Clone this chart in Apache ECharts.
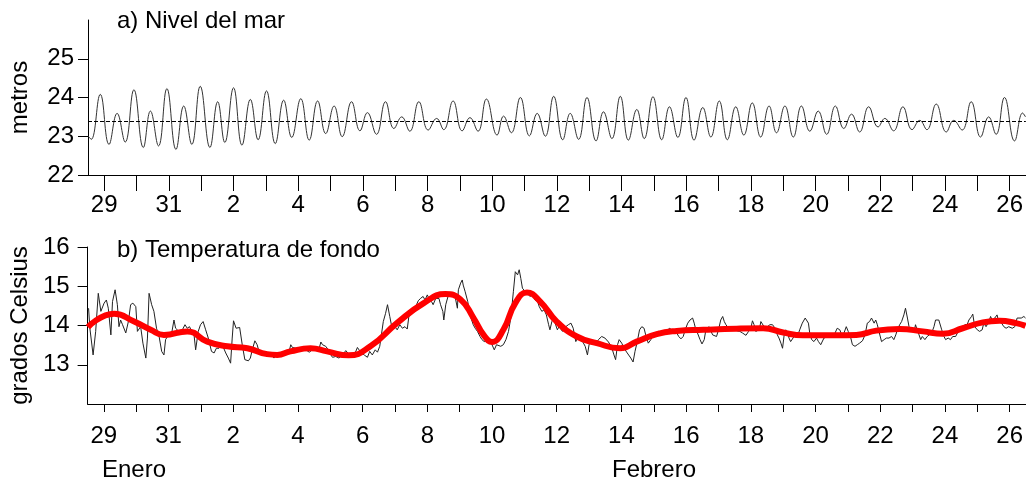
<!DOCTYPE html>
<html><head><meta charset="utf-8">
<script src="https://cdn.jsdelivr.net/npm/echarts@6/dist/echarts.min.js"></script>
<style>html,body{margin:0;padding:0;background:#fff}#c{width:1026px;height:480px}</style>
</head><body><div id="c"></div><script>
// Day numbers: Jan 29 = 29, Feb 1 = 32 ... Feb 26 = 57
const tickDays = [29,30,31,32,33,34,35,36,37,38,39,40,41,42,43,44,45,46,47,48,49,50,51,52,53,54,55,56,57];
const labelDays = [29,31,33,35,37,39,41,43,45,47,49,51,53,55,57];
const labelText = ['29','31','2','4','6','8','10','12','14','16','18','20','22','24','26'];
const monthNames = ['Enero','Febrero'];

// a) Sea level (m): high/low waters
const seaDay = [28.51,28.60,28.88,29.15,29.40,29.65,29.92,30.21,30.43,30.68,
30.94,31.22,31.46,31.71,31.97,32.27,32.51,32.73,33.00,33.26,
33.52,33.76,34.02,34.29,34.55,34.80,35.08,35.34,35.60,35.85,
36.11,36.36,36.65,36.91,37.14,37.42,37.70,37.96,38.20,38.45,
38.73,39.02,39.28,39.50,39.79,40.07,40.31,40.56,40.82,41.15,
41.35,41.59,41.87,42.15,42.39,42.64,42.90,43.18,43.41,43.67,
43.93,44.21,44.44,44.70,44.96,45.21,45.47,45.70,45.97,46.24,
46.48,46.74,46.99,47.24,47.51,47.76,48.02,48.27,48.53,48.78,
49.04,49.30,49.56,49.79,50.05,50.31,50.56,50.82,51.08,51.34,
51.61,51.87,52.11,52.36,52.64,52.93,53.14,53.41,53.70,53.98,
54.22,54.44,54.73,55.04,55.27,55.53,55.81,56.10,56.35,56.58,
56.84,57.15,57.40,57.49];
const seaLevel = [23.0,22.92,24.08,22.79,23.59,22.85,24.2,22.71,23.65,22.75,
24.23,22.66,23.78,22.79,24.29,22.71,23.89,22.84,24.25,22.77,
23.95,22.91,24.17,22.81,23.93,22.97,23.97,22.9,23.91,23.07,
23.78,22.99,23.89,23.14,23.61,23.05,23.89,23.2,23.5,23.13,
23.89,23.16,23.46,23.17,23.91,23.14,23.48,23.13,23.96,23.03,
23.52,23.09,24.0,23.01,23.59,23.0,24.03,22.91,23.59,22.92,
24.0,22.88,23.63,22.94,24.03,22.9,23.69,22.94,24.02,22.91,
23.76,22.97,24.0,22.9,23.74,22.98,23.91,22.91,23.76,23.03,
23.86,22.98,23.78,23.09,23.78,22.98,23.78,23.13,23.65,23.05,
23.78,23.2,23.57,23.11,23.76,23.24,23.46,23.14,23.76,23.17,
23.41,23.17,23.83,23.11,23.41,23.16,23.89,22.98,23.5,23.05,
24.0,22.88,23.6,23.5];
const meanLevel = 23.4;

// b) Bottom temperature (°C), raw record
const tempDay = [28.53,28.57,28.67,28.75,28.83,28.91,29.01,29.08,29.14,29.22,
29.27,29.35,29.42,29.47,29.52,29.58,29.68,29.76,29.83,29.90,
29.99,30.04,30.14,30.21,30.30,30.35,30.40,30.48,30.55,30.63,
30.71,30.79,30.86,30.91,31.00,31.10,31.17,31.22,31.32,31.43,
31.51,31.58,31.65,31.72,31.79,31.84,31.92,31.99,32.07,32.15,
32.23,32.33,32.41,32.48,32.56,32.66,32.77,32.85,32.92,32.97,
33.01,33.09,33.20,33.28,33.36,33.47,33.53,33.59,33.67,33.74,
33.81,33.90,34.00,34.10,34.19,34.26,34.31,
34.42,34.52,34.63,34.73,34.78,34.83,34.94,35.04,35.14,35.25,
35.35,35.45,35.55,35.66,35.71,35.76,35.86,35.94,36.02,36.07,
36.17,36.27,36.38,36.48,36.53,36.60,36.69,36.77,36.84,36.89,
36.94,37.05,37.15,37.22,37.30,37.39,37.46,37.53,37.59,37.64,
37.71,37.77,37.84,37.92,38.00,38.07,38.15,38.23,38.31,38.38,
38.43,38.49,38.56,38.64,38.72,38.79,38.87,38.93,39.00,39.05,
39.13,39.18,39.26,39.36,39.41,39.48,39.51,39.57,39.64,39.72,
39.82,39.87,39.93,39.96,40.03,40.08,
40.11,40.17,40.25,40.30,40.35,40.42,40.48,40.55,40.63,40.69,
40.76,40.83,40.91,41.00,41.07,41.14,41.20,41.27,41.35,41.43,
41.51,41.58,41.66,41.72,41.79,41.84,41.89,41.94,42.03,42.10,
42.17,42.25,42.33,42.41,42.46,42.54,42.61,42.68,42.75,42.79,
42.85,42.90,42.95,43.02,43.07,43.18,43.28,43.36,43.44,43.51,
43.59,43.64,43.71,43.80,43.88,43.95,44.00,44.08,44.19,44.29,
44.39,44.49,44.60,44.70,44.77,44.82,44.88,44.93,45.01,45.08,
45.18,45.29,45.36,45.42,45.49,45.56,45.63,45.70,45.75,45.83,
45.91,45.99,46.07,46.15,46.22,46.33,46.40,46.48,46.56,46.63,
46.71,46.77,46.84,46.91,46.97,47.05,47.12,47.20,47.25,47.30,
47.35,47.43,47.49,47.56,47.61,47.66,47.71,47.77,47.82,47.87,
47.94,48.00,48.07,48.13,48.18,48.23,48.31,48.38,48.49,48.59,
48.66,48.74,48.85,48.93,49.00,49.05,49.10,49.15,49.26,49.31,
49.36,49.44,49.51,49.59,49.67,49.75,49.82,49.87,49.93,49.98,
50.03,50.08,50.13,50.18,50.23,50.29,50.37,50.44,50.51,50.59,
50.68,50.73,50.78,50.82,50.88,50.95,51.03,51.09,51.16,51.21,
51.26,51.37,51.47,51.57,
51.67,51.75,51.81,51.88,51.95,52.01,52.09,52.14,52.22,52.29,
52.36,52.45,52.53,52.60,52.67,52.73,52.81,52.86,52.91,52.96,
53.04,53.12,53.19,53.27,53.35,53.42,53.48,53.53,53.60,53.66,
53.73,53.78,53.84,53.89,53.97,54.04,54.09,54.14,54.20,54.25,
54.30,54.38,54.45,54.50,54.59,54.66,54.71,54.76,54.81,54.90,
54.97,55.02,55.10,55.17,55.24,55.33,55.41,55.48,55.55,55.62,
55.69,55.74,55.82,55.86,55.92,56.00,56.07,56.15,56.20,56.27,
56.36,56.41,56.46,56.54,56.61,56.66,56.75,56.82,56.89,56.97,
57.08,57.16,57.23,57.28,57.36,57.44,57.49];
const tempVal = [14.44,13.93,13.25,13.85,14.82,14.36,14.57,14.65,14.44,13.76,
14.61,14.91,14.53,13.97,14.14,14.02,13.81,14.10,14.53,14.57,
14.48,13.85,13.97,13.55,13.17,13.68,14.82,14.53,14.36,13.93,
13.72,13.34,13.25,13.64,13.76,13.81,14.14,13.93,13.85,13.89,
14.02,13.93,13.97,13.85,13.76,13.38,13.85,14.02,14.10,13.89,
13.68,13.34,13.30,13.42,13.42,13.51,13.30,13.17,13.04,13.68,
14.12,13.93,13.95,13.51,13.13,13.10,13.17,13.38,13.61,13.51,
13.30,13.25,13.30,13.25,13.27,13.17,13.25,
13.24,13.25,13.30,13.34,13.51,13.44,13.42,13.42,13.44,13.38,
13.32,13.38,13.38,13.42,13.58,13.51,13.47,13.38,13.25,13.19,
13.21,13.17,13.25,13.36,13.38,13.25,13.27,13.30,13.44,13.41,
13.32,13.25,13.19,13.34,13.25,13.38,13.32,13.47,13.51,14.10,
14.31,14.53,14.23,13.89,13.97,13.89,14.02,13.93,13.97,13.91,
14.23,14.27,14.36,14.48,14.63,14.69,14.74,14.65,14.78,14.69,
14.61,14.53,14.69,14.69,14.53,14.36,14.14,14.53,14.74,14.78,
14.82,14.69,14.44,14.91,15.08,15.16,
15.03,14.86,14.61,14.36,14.19,14.02,13.93,13.85,13.72,13.64,
13.59,13.61,13.64,13.51,13.38,13.51,13.55,13.47,13.51,13.64,
13.85,14.19,14.86,15.37,15.29,15.42,15.20,14.95,14.86,14.82,
14.74,14.78,14.65,14.61,14.48,14.36,14.40,14.27,14.02,13.89,
14.10,14.23,14.06,13.89,13.97,13.85,13.97,14.02,14.06,13.93,
13.59,13.68,13.72,13.59,13.47,13.25,13.51,13.59,13.51,13.64,
13.72,13.68,13.58,13.44,13.25,13.13,13.51,13.64,13.55,13.42,
13.30,13.17,13.07,13.34,13.59,13.89,13.97,13.93,13.76,13.55,
13.64,13.76,13.81,13.85,13.81,13.85,13.85,13.93,13.89,13.89,
13.81,13.72,13.66,13.72,13.89,14.06,14.14,14.19,14.06,13.89,
13.81,13.64,13.53,13.64,13.89,13.93,13.97,13.85,13.76,13.81,
13.72,13.89,14.14,14.23,14.10,14.02,13.93,13.89,13.89,13.86,
13.85,13.81,13.75,13.85,13.93,14.12,14.02,13.85,13.89,14.10,
14.06,13.93,13.97,14.02,14.02,13.93,13.76,13.68,13.55,13.42,
13.76,13.89,13.81,13.68,13.59,13.64,13.76,13.72,13.89,14.06,
14.19,14.20,14.06,13.81,13.64,13.59,13.68,13.59,13.51,13.55,
13.68,13.72,13.72,13.75,
13.93,13.89,13.76,13.81,13.97,13.85,13.68,13.51,13.47,13.51,
13.55,13.61,13.76,14.06,14.10,14.19,14.06,14.14,14.02,13.85,
13.59,13.64,13.68,13.68,13.72,13.64,13.76,13.89,14.02,14.10,
14.27,14.44,14.19,13.97,13.89,13.81,14.02,13.89,13.76,13.64,
13.72,13.64,13.72,13.76,13.81,13.97,14.14,14.19,14.14,13.89,
13.72,13.64,13.68,13.64,13.72,13.72,13.85,13.89,13.97,14.02,
14.03,14.14,14.23,14.29,13.97,13.89,13.85,13.89,14.06,13.97,
14.10,14.23,14.14,14.19,14.27,14.10,14.06,13.97,13.93,13.97,
13.93,13.97,14.19,14.20,14.19,14.23,14.19];

// b) Smoothed temperature (red)
const smoothDay = [28.51,29.32,29.94,30.45,30.86,31.58,32.20,32.82,33.44,34.05,
34.36,34.77,35.39,35.90,36.57,37.24,38.06,38.89,39.56,40.02,
40.43,40.74,41.00,41.35,41.72,42.08,42.49,43.00,43.62,44.24,
44.96,45.47,46.09,46.71,47.53,48.56,49.38,50.00,50.61,51.65,
52.26,52.88,53.60,54.32,54.93,55.55,56.17,56.69,57.20,57.49];
const smoothVal = [13.96,14.30,14.10,13.89,13.76,13.85,13.59,13.47,13.42,13.27,
13.25,13.34,13.42,13.34,13.24,13.47,14.06,14.57,14.80,14.67,
14.19,13.76,13.58,13.89,14.57,14.84,14.61,14.10,13.72,13.55,
13.42,13.59,13.78,13.86,13.89,13.92,13.93,13.82,13.75,13.75,
13.76,13.87,13.91,13.85,13.79,13.93,14.08,14.12,14.06,13.99];

const zip = (a, b) => a.map((x, i) => [x, b[i]]);
const FONT = 'Liberation Sans';
const txt = {color: '#000', fontFamily: FONT, fontSize: 24};

function xAxisCfg(gridIndex, tickLen, margin) {
  return {
    type: 'value', gridIndex, min: 28.5, max: 57.5,
    axisLine: {show: true, onZero: false, lineStyle: {color: '#000', width: 1}},
    axisTick: {show: true, length: tickLen, customValues: tickDays, lineStyle: {color: '#000', width: 1}},
    axisLabel: Object.assign({
      customValues: labelDays, margin,
      formatter: v => labelText[labelDays.indexOf(Math.round(v))] || ''
    }, txt),
    splitLine: {show: false}
  };
}
function yAxisCfg(gridIndex, min, max, vals, name, gap, margin) {
  return {
    type: 'value', gridIndex, min, max, name, nameLocation: 'middle', nameGap: gap,
    nameRotate: 90, nameTextStyle: txt,
    axisLine: {show: true, lineStyle: {color: '#000', width: 1}},
    axisTick: {show: true, length: 10, customValues: vals, lineStyle: {color: '#000'}},
    axisLabel: Object.assign({customValues: vals, margin}, txt),
    splitLine: {show: false}
  };
}

const chart = echarts.init(document.getElementById('c'), null, {renderer: 'canvas'});
chart.setOption({
  animation: false,
  backgroundColor: '#fff',
  title: [
    {text: 'a) Nivel del mar', left: 112, top: 4, textStyle: Object.assign({fontWeight: 'normal'}, txt)},
    {text: 'b) Temperatura de fondo', left: 112, top: 233, textStyle: Object.assign({fontWeight: 'normal'}, txt)},
    {text: monthNames[0], left: 97, top: 453, textStyle: Object.assign({fontWeight: 'normal'}, txt)},
    {text: monthNames[1], left: 607, top: 453, textStyle: Object.assign({fontWeight: 'normal'}, txt)}
  ],
  grid: [
    {left: 87, right: 0, top: 20, height: 155},
    {left: 87, right: 0, top: 247, height: 157}
  ],
  xAxis: [xAxisCfg(0, 16, 18), xAxisCfg(1, 8, 20)],
  yAxis: [
    yAxisCfg(0, 22, 26, [22,23,24,25], 'metros', 56, 14),
    yAxisCfg(1, 12, 16, [13,14,15,16], 'grados Celsius', 55, 18)
  ],
  series: [
    {
      type: 'line', xAxisIndex: 0, yAxisIndex: 0, data: zip(seaDay, seaLevel),
      smooth: 0.45, showSymbol: false, lineStyle: {color: '#333', width: 1},
      markLine: {
        silent: true, symbol: 'none', label: {show: false},
        lineStyle: {color: '#000', type: [4, 2], width: 1},
        data: [{yAxis: meanLevel}]
      }
    },
    {
      type: 'line', xAxisIndex: 1, yAxisIndex: 1, data: zip(tempDay, tempVal),
      showSymbol: false, lineStyle: {color: '#222', width: 1}
    },
    {
      type: 'line', xAxisIndex: 1, yAxisIndex: 1, data: zip(smoothDay, smoothVal),
      smooth: 0.5, showSymbol: false, lineStyle: {color: '#ff0000', width: 6}
    }
  ]
});
</script></body></html>
